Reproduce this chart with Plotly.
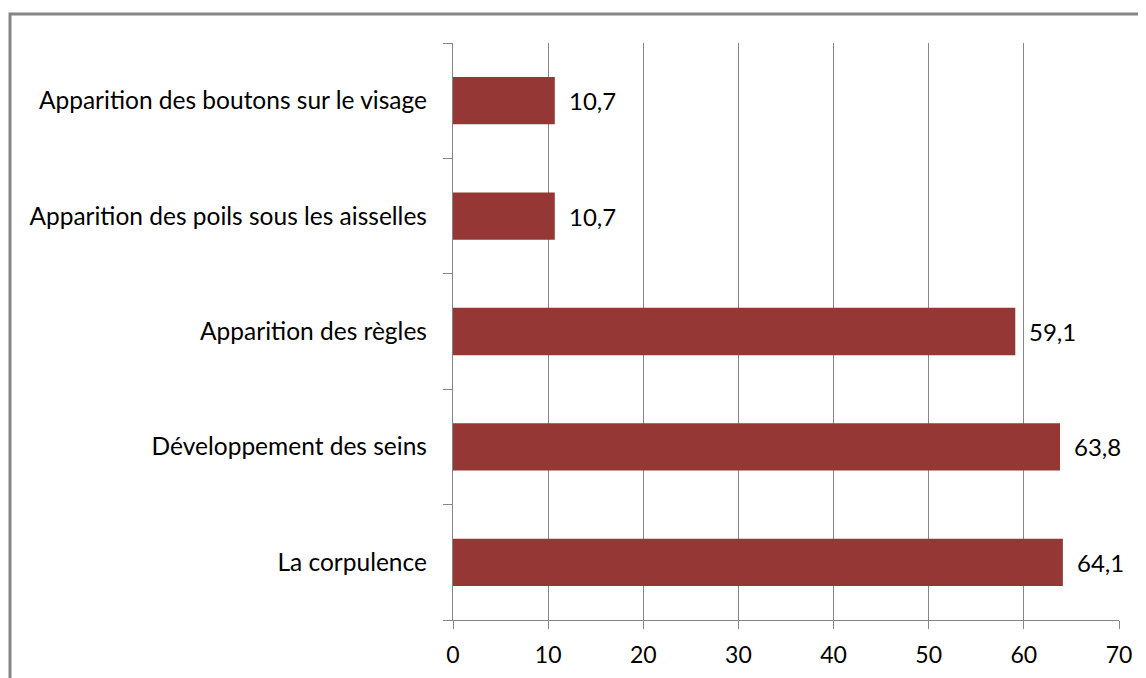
import plotly.graph_objects as go

categories = [
    "La corpulence",
    "Développement des seins",
    "Apparition des règles",
    "Apparition des poils sous les aisselles",
    "Apparition des boutons sur le visage",
]
values = [64.1, 63.8, 59.1, 10.7, 10.7]
value_labels = ["64,1", "63,8", "59,1", "10,7", "10,7"]
x_ticks = [0, 10, 20, 30, 40, 50, 60, 70]

FONT = "Lato, Carlito, Calibri, sans-serif"
GRAY = "#868686"

# page body has an 8px margin, so the figure is offset by (8, 8)
L, T, PW, PH = 445, 35, 666, 577

fig = go.Figure(
    go.Bar(
        x=values,
        y=categories,
        orientation="h",
        marker=dict(color="#953735", line=dict(width=0)),
        width=0.41,
        hoverinfo="skip",
    )
)

for v, c, t in zip(values, categories, value_labels):
    fig.add_annotation(
        x=v, y=c, text=t, showarrow=False, xanchor="left", yanchor="middle",
        xshift=12, font=dict(family=FONT, size=24, color="#000000"),
    )

fig.update_layout(
    width=1146,
    height=678,
    margin=dict(l=L, r=1146 - L - PW, t=T, b=678 - T - PH),
    paper_bgcolor="white",
    plot_bgcolor="white",
    showlegend=False,
    font=dict(family=FONT, size=24, color="#000000"),
    xaxis=dict(
        range=[0, 70],
        tickvals=x_ticks,
        ticktext=[str(t) for t in x_ticks],
        showgrid=True,
        gridcolor=GRAY,
        gridwidth=1.3,
        showline=True,
        linecolor=GRAY,
        linewidth=1.3,
        ticks="outside",
        ticklen=8,
        tickcolor=GRAY,
        tickwidth=1.3,
        ticklabelstandoff=6,
        zeroline=False,
        tickfont=dict(family=FONT, size=23, color="#000000"),
        fixedrange=True,
    ),
    yaxis=dict(
        categoryorder="array",
        categoryarray=categories,
        showgrid=False,
        showline=True,
        linecolor=GRAY,
        linewidth=1.3,
        ticks="outside",
        tickson="boundaries",
        ticklen=9,
        tickcolor=GRAY,
        tickwidth=1.3,
        ticklabelstandoff=20,
        tickfont=dict(family=FONT, size=24.5, color="#000000"),
        fixedrange=True,
    ),
    shapes=[
        dict(
            type="rect", xref="paper", yref="paper",
            x0=(2 - L) / PW, x1=1.2, y0=-0.3, y1=(T + PH - 6) / PH,
            line=dict(color=GRAY, width=3), fillcolor="rgba(0,0,0,0)", layer="below",
        )
    ],
)

fig.write_html("out.html")
